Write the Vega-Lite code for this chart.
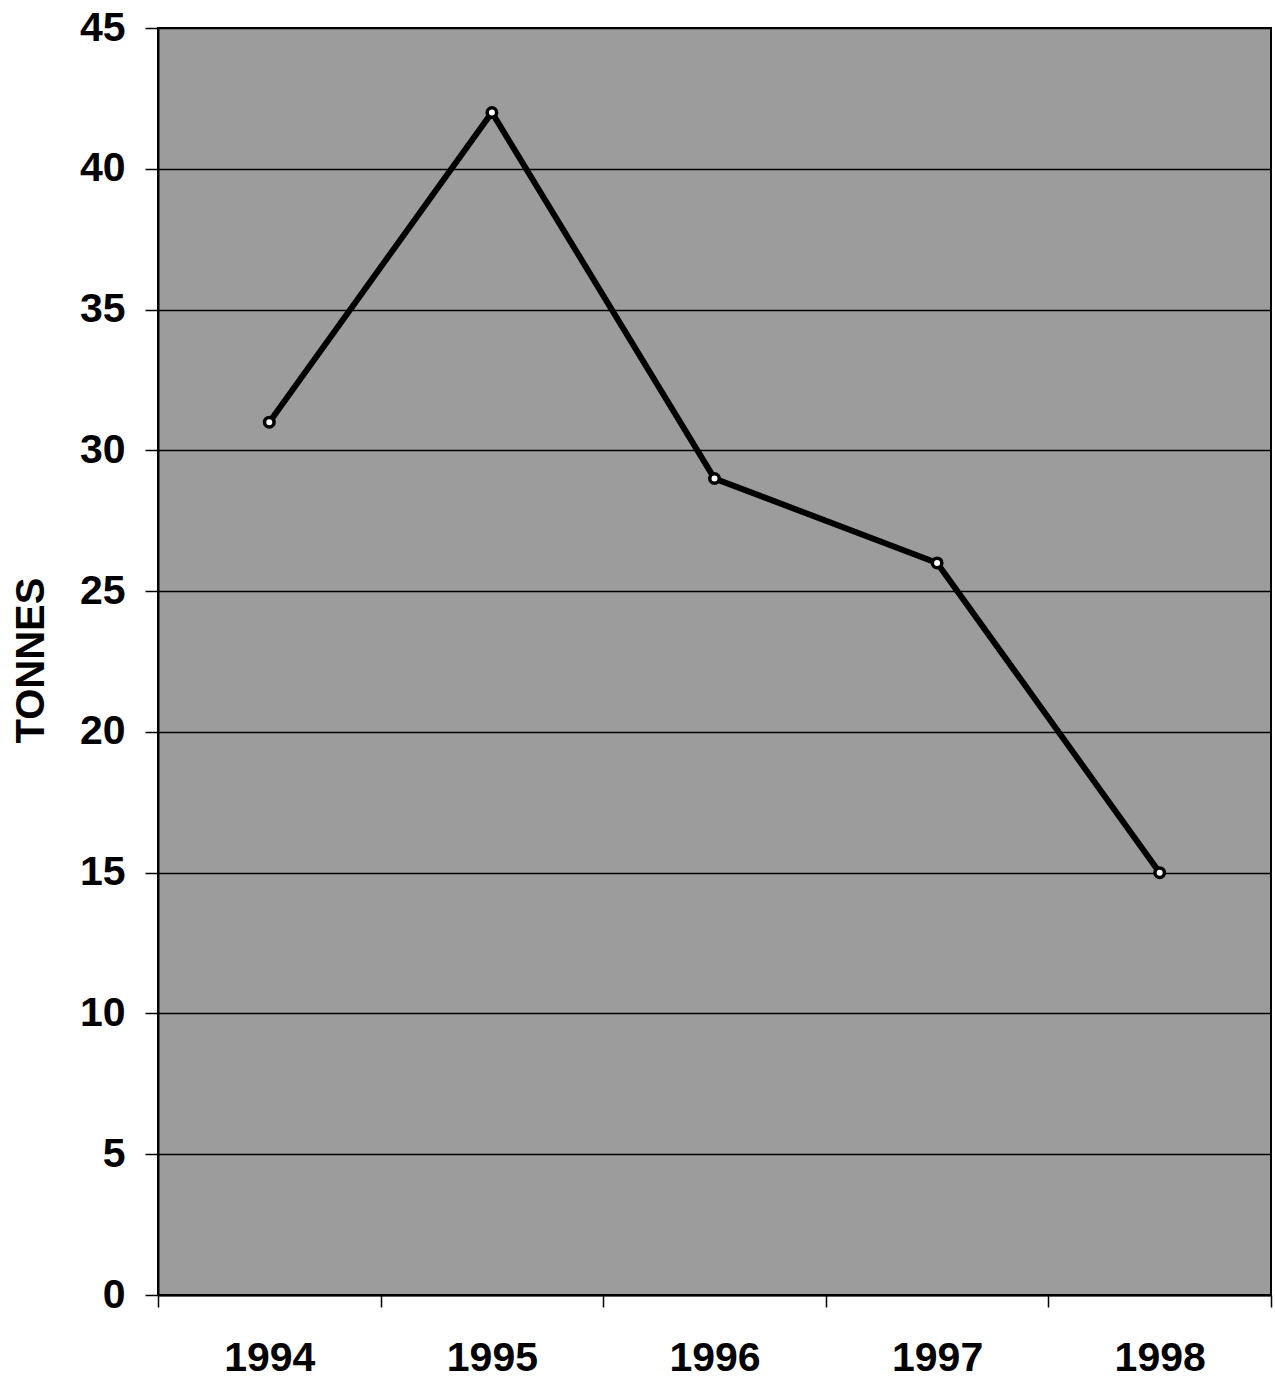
{
  "$schema": "https://vega.github.io/schema/vega-lite/v6.json",
  "width": 1113,
  "height": 1267,
  "autosize": "none",
  "padding": {"left": 158, "top": 28, "right": 4, "bottom": 85},
  "background": "white",
  "config": {
    "view": {"fill": "#9c9c9c", "stroke": "black", "strokeWidth": 2},
    "font": "Liberation Sans",
    "axis": {
      "labelFont": "Liberation Sans",
      "labelFontWeight": "bold",
      "labelFontSize": 41,
      "labelColor": "black",
      "titleFont": "Liberation Sans",
      "titleFontWeight": "bold",
      "titleFontSize": 40,
      "titleColor": "black",
      "domainColor": "black",
      "domainWidth": 2,
      "tickColor": "black",
      "tickWidth": 1.5
    }
  },
  "data": {
    "values": [
      {"year": "1994", "tonnes": 31},
      {"year": "1995", "tonnes": 42},
      {"year": "1996", "tonnes": 29},
      {"year": "1997", "tonnes": 26},
      {"year": "1998", "tonnes": 15}
    ]
  },
  "encoding": {
    "x": {
      "field": "year",
      "type": "ordinal",
      "scale": {"type": "band", "paddingInner": 0, "paddingOuter": 0},
      "axis": {
        "title": null,
        "labelAngle": 0,
        "tickSize": 12,
        "labelPadding": 31,
        "grid": false,
        "tickBand": "extent"
      }
    },
    "y": {
      "field": "tonnes",
      "type": "quantitative",
      "scale": {"domain": [0, 45], "nice": false},
      "axis": {
        "title": "TONNES",
        "values": [0, 5, 10, 15, 20, 25, 30, 35, 40, 45],
        "tickSize": 13,
        "labelPadding": 20,
        "grid": true,
        "gridColor": "black",
        "gridWidth": 1.5,
        "gridOpacity": 1,
        "titleX": -127,
        "titleY": 632,
        "titleAngle": -90,
        "titleAlign": "center",
        "titleBaseline": "middle"
      }
    }
  },
  "layer": [
    {
      "mark": {"type": "line", "color": "black", "strokeWidth": 6}
    },
    {
      "mark": {"type": "point", "shape": "circle", "filled": true, "fill": "white", "stroke": "black", "strokeWidth": 3.5, "size": 90, "opacity": 1}
    }
  ]
}
